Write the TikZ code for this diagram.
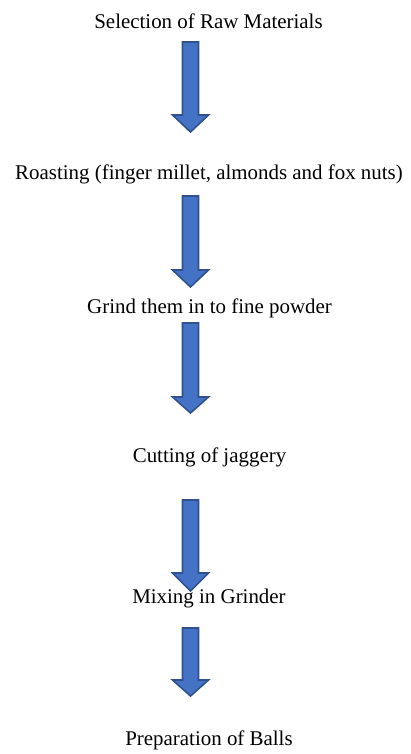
\documentclass[tikz,border=0pt]{standalone}
\usepackage{fontspec}
\setmainfont{Liberation Serif}
\begin{document}
\begin{tikzpicture}[x=1bp,y=-1bp,
  lbl/.style={inner sep=0pt,anchor=center,font=\fontsize{21}{25}\selectfont},
  blk/.style={fill=blue1,draw=blue2,line width=1.6bp,line join=miter}]
\definecolor{blue1}{HTML}{4472C4}
\definecolor{blue2}{HTML}{2F528F}
\useasboundingbox (0,0) rectangle (410,754);
\newcommand{\blockarrow}[4]{%
  \draw[blk] (#1-8,#2) -- (#1+8,#2) -- (#1+8,#3) -- (#1+18,#3) -- (#1,#4) -- (#1-18,#3) -- (#1-8,#3) -- cycle;}
\node[lbl] (t1) at (208.5,21) {Selection of Raw Materials};
\node[lbl] (t2) at (209,174) {Roasting (finger millet, almonds and fox nuts)};
\node[lbl] (t3) at (209.5,308) {Grind them in to fine powder};
\node[lbl] (t4) at (209.5,457) {Cutting of jaggery};
\node[lbl] (t5) at (209,598) {Mixing in Grinder};
\node[lbl] (t6) at (209,740) {Preparation of Balls};
\blockarrow{190.5}{42}{115}{132}
\blockarrow{190.5}{196}{270}{287}
\blockarrow{190.5}{323}{397}{413}
\blockarrow{190.5}{500}{573}{591}
\blockarrow{190.5}{628}{680}{696}
\end{tikzpicture}
\end{document}
